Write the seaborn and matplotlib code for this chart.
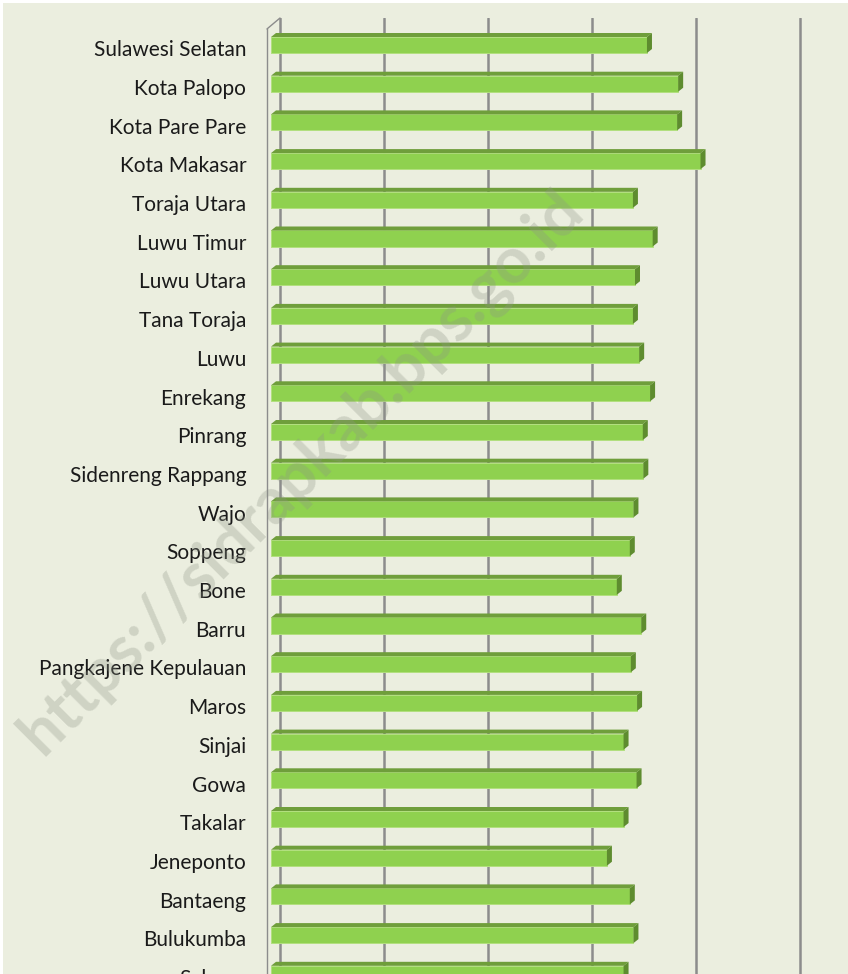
import matplotlib
matplotlib.use("Agg")
import matplotlib.pyplot as plt
from matplotlib.patches import Polygon, Rectangle
from matplotlib.transforms import ScaledTranslation
import pandas as pd
import seaborn as sns

# IPM per kabupaten/kota (top to bottom)
regions = [
    "Sulawesi Selatan", "Kota Palopo", "Kota Pare Pare", "Kota Makasar",
    "Toraja Utara", "Luwu Timur", "Luwu Utara", "Tana Toraja", "Luwu",
    "Enrekang", "Pinrang", "Sidenreng Rappang", "Wajo", "Soppeng", "Bone",
    "Barru", "Pangkajene Kepulauan", "Maros", "Sinjai", "Gowa", "Takalar",
    "Jeneponto", "Bantaeng", "Bulukumba", "Selayar",
]
ipm = [
    72.3, 78.3, 78.1, 82.6,
    69.6, 73.4, 70.0, 69.6, 70.8,
    72.9, 71.5, 71.6, 69.7, 69.0, 66.5,
    71.2, 69.2, 70.4, 67.8, 70.3, 67.8,
    64.6, 69.0, 69.7, 67.8,
]
grid_ticks = [0, 20, 40, 60, 80, 100]

BG = "#EBEEDF"
GREEN = "#8FD14F"
GREEN_TOP = "#6F9E3B"
GREEN_SIDE = "#5E8C2F"
GRID = "#8C8C8C"

sns.set_style("white")
plt.rcParams["font.family"] = ["Lato", "DejaVu Sans"]

W, H = 848, 974
fig = plt.figure(figsize=(W / 100, H / 100), dpi=100)
fig.patch.set_facecolor("white")
fig.add_artist(Rectangle((3 / W, 0), 1, 1 - 3 / H, transform=fig.transFigure,
                         facecolor=BG, edgecolor="none", zorder=0))

# pixel geometry of the plot (the chart runs past the bottom edge)
px_per_unit = 5.2
x0_px = 271
row_px = 38.7
c0_px = 48.3
top_px = 18
bottom_px = 1000

ax = fig.add_axes([x0_px / W, 1 - bottom_px / H, 1 - x0_px / W,
                   (bottom_px - top_px) / H])
ax.set_facecolor("none")

df = pd.DataFrame({"region": regions, "ipm": ipm})
sns.barplot(data=df, y="region", x="ipm", orient="h", color=GREEN,
            saturation=1, width=0.414, ax=ax, zorder=3,
            edgecolor="#B2E07F", linewidth=0.7)

# 3d look: top and side faces
dx = 5 / px_per_unit
dy = 4 / row_px
for p in ax.patches:
    p.set_y(p.get_y() - 0.085)
    x, y, w, h = p.get_x(), p.get_y(), p.get_width(), p.get_height()
    top = Polygon([(x, y), (x + w, y), (x + w + dx, y - dy), (x + dx, y - dy)],
                  closed=True, facecolor=GREEN_TOP, edgecolor="none", zorder=3)
    side = Polygon([(x + w, y), (x + w + dx, y - dy), (x + w + dx, y + h - dy),
                    (x + w, y + h)],
                   closed=True, facecolor=GREEN_SIDE, edgecolor="none", zorder=3)
    ax.add_patch(top)
    ax.add_patch(side)

# back-wall gridlines, shifted right
ax.set_xticks(grid_ticks)
ax.grid(axis="x", color=GRID, linewidth=1.8, zorder=1)
ax.grid(axis="y", visible=False)
shift = ScaledTranslation(9 / 100, 0, fig.dpi_scale_trans)
for gl in ax.get_xgridlines():
    gl.set_transform(gl.get_transform() + shift)
ax.tick_params(axis="x", length=0, labelbottom=False)

# category axis
ax.set_yticks(range(len(regions)))
ax.set_yticklabels(regions)
ax.set_yticks([i - 0.5 for i in range(len(regions) + 1)], minor=True)
ax.tick_params(axis="y", which="major", length=0, pad=15, labelsize=15,
               labelcolor="#1A1A1A")
ax.tick_params(axis="y", which="minor", length=3.6, width=1.0, color=GRID,
               direction="out")

ymin = (top_px - c0_px) / row_px
ax.set_xlim(0, (W - x0_px) / px_per_unit)
ax.set_ylim((bottom_px - c0_px) / row_px, ymin)

for s in ["top", "right", "bottom"]:
    ax.spines[s].set_visible(False)
spine_x = -4 / px_per_unit
ax.spines["left"].set_position(("data", spine_x))
ax.spines["left"].set_bounds(-0.5, len(regions))
ax.spines["left"].set_color(GRID)
ax.spines["left"].set_linewidth(1.0)
ax.plot([spine_x, 9 / px_per_unit], [-0.5, ymin],
        color=GRID, linewidth=1.0, clip_on=False, zorder=2)
ax.set_xlabel("")
ax.set_ylabel("")

# watermark
fig.text(0.355, 0.515, "https://sidrapkab.bps.go.id", rotation=45,
         rotation_mode="anchor", ha="center", va="center", fontsize=46,
         fontweight="bold", color="#8E9486", alpha=0.3, zorder=10)

fig.savefig("out.png", dpi=100)
